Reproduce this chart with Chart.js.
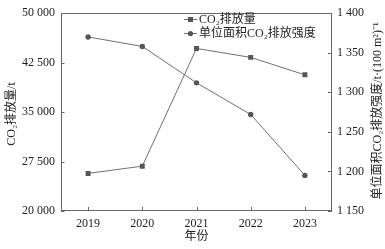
<!DOCTYPE html>
<html><head><meta charset="utf-8">
<script src="https://cdn.jsdelivr.net/npm/chart.js@4/dist/chart.umd.min.js"></script>
<style>html,body{margin:0;padding:0;background:#fff}#wrap{width:385px;height:249px}</style>
</head><body><div id="wrap"><canvas id="c"></canvas></div>
<script>
const years = ['2019','2020','2021','2022','2023'];
const emissions = [25700, 26800, 44650, 43300, 40650];
const intensity = [1370, 1358, 1312, 1272, 1195];
const emissionsLabel = 'CO₂排放量';
const intensityLabel = '单位面积CO₂排放强度';
const leftTitle = 'CO₂排放量/t';
const rightTitle = '单位面积CO₂排放强度/t·(100 m²)⁻¹';
const xTitle = '年份';
const leftTicks = [20000, 27500, 35000, 42500, 50000];
const rightTicks = [1150, 1200, 1250, 1300, 1350, 1400];

const FONT = "'Liberation Serif','Noto Sans CJK SC',serif";
const TXT = '#222';
const AX = '#666';
const fmt = v => String(v).replace(/\B(?=(\d{3})+(?!\d))/g, ' ');

const deco = {
  id: 'deco',
  afterDraw(chart) {
    const ctx = chart.ctx, a = chart.chartArea;
    const sx = chart.scales.x, sy = chart.scales.y, sy1 = chart.scales.y1;
    ctx.save();
    ctx.strokeStyle = AX; ctx.lineWidth = 1;
    ctx.strokeRect(Math.round(a.left)+0.5, Math.round(a.top)+0.5, Math.round(a.right-a.left)-1, Math.round(a.bottom-a.top)-1);
    ctx.beginPath();
    sy.ticks.forEach(t => { const y = Math.round(sy.getPixelForValue(t.value))+0.5; ctx.moveTo(a.left, y); ctx.lineTo(a.left+3.5, y); });
    sy1.ticks.forEach(t => { const y = Math.round(sy1.getPixelForValue(t.value))+0.5; ctx.moveTo(a.right-4, y); ctx.lineTo(a.right, y); });
    sx.ticks.forEach((t,i) => { const x = Math.round(sx.getPixelForTick(i))+0.5; ctx.moveTo(x, a.bottom); ctx.lineTo(x, a.bottom-4); });
    ctx.stroke();
    ctx.fillStyle = TXT; ctx.font = '12px ' + FONT; ctx.textBaseline = 'middle';
    ctx.textAlign = 'center';
    ctx.fillText(xTitle, (a.left+a.right)/2, 237);
    ctx.save(); ctx.translate(12, 114); ctx.rotate(-Math.PI/2); ctx.fillText(leftTitle, 0, 0); ctx.restore();
    ctx.save(); ctx.translate(378, 111); ctx.rotate(-Math.PI/2); ctx.fillText(rightTitle, 0, 0); ctx.restore();
    const items = [
      {label: chart.data.datasets[0].label, style: 'rect', y: 19},
      {label: chart.data.datasets[1].label, style: 'circle', y: 33}
    ];
    ctx.textAlign = 'left';
    items.forEach(it => {
      ctx.strokeStyle = '#707070'; ctx.lineWidth = 1;
      ctx.beginPath(); ctx.moveTo(184, it.y+0.5); ctx.lineTo(197, it.y+0.5); ctx.stroke();
      ctx.fillStyle = '#555';
      if (it.style === 'rect') ctx.fillRect(188, it.y-2, 5, 5);
      else { ctx.beginPath(); ctx.arc(190.5, it.y+0.5, 2.6, 0, Math.PI*2); ctx.fill(); }
      ctx.fillStyle = TXT;
      ctx.fillText(it.label, 199, it.y+1);
    });
    ctx.restore();
  }
};

new Chart(document.getElementById('c'), {
  type: 'line',
  data: {
    labels: years,
    datasets: [
      {label: emissionsLabel, data: emissions, yAxisID: 'y', borderColor: '#707070', borderWidth: 1,
       pointStyle: 'rect', pointRadius: 3.5, pointBackgroundColor: '#555', pointBorderColor: '#555', pointBorderWidth: 0, tension: 0},
      {label: intensityLabel, data: intensity, yAxisID: 'y1', borderColor: '#707070', borderWidth: 1,
       pointStyle: 'circle', pointRadius: 2.7, pointBackgroundColor: '#555', pointBorderColor: '#555', pointBorderWidth: 0, tension: 0}
    ]
  },
  options: {
    responsive: true, maintainAspectRatio: false, animation: false,
    layout: {padding: {top: 11, left: 0, right: 0, bottom: 0}},
    plugins: {legend: {display: false}, tooltip: {enabled: false}},
    scales: {
      x: {offset: true, grid: {display: false, drawTicks: false}, border: {display: false},
          ticks: {padding: 6, color: TXT, font: {family: FONT, size: 12}},
          afterFit: s => { s.height = 38; }},
      y: {position: 'left', min: 20000, max: 50000,
          grid: {display: false, drawTicks: false}, border: {display: false},
          afterBuildTicks: s => { s.ticks = leftTicks.map(v => ({value: v})); },
          ticks: {padding: 6, color: TXT, font: {family: FONT, size: 12}, callback: v => fmt(v)},
          afterFit: s => { s.width = 61; }},
      y1: {position: 'right', min: 1150, max: 1400,
          grid: {display: false, drawTicks: false}, border: {display: false},
          afterBuildTicks: s => { s.ticks = rightTicks.map(v => ({value: v})); },
          ticks: {padding: 5, color: TXT, font: {family: FONT, size: 12}, callback: v => fmt(v)},
          afterFit: s => { s.width = 53; }}
    }
  },
  plugins: [deco]
});
</script></body></html>
